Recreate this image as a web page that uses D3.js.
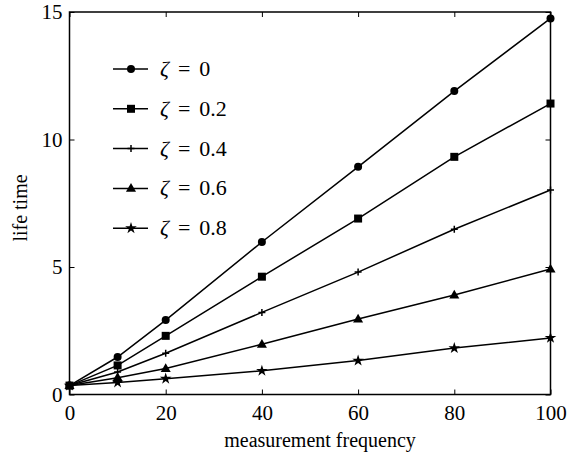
<!DOCTYPE html>
<html><head><meta charset="utf-8">
<script src="https://cdn.jsdelivr.net/npm/d3@7"></script>
<style>body{margin:0;background:#fff}svg{display:block}</style>
</head><body>
<svg id="c" width="568" height="459"></svg>
<script>
const xValues = [0, 10, 20, 40, 60, 80, 100];
const zetaLabels = ["0", "0.2", "0.4", "0.6", "0.8"];
const zeta0  = [0.35, 1.47, 2.92, 5.98, 8.93, 11.9, 14.75];
const zeta02 = [0.35, 1.14, 2.3, 4.62, 6.9, 9.32, 11.41];
const zeta04 = [0.35, 0.88, 1.62, 3.22, 4.8, 6.48, 8.02];
const zeta06 = [0.35, 0.66, 1.02, 1.97, 2.96, 3.9, 4.92];
const zeta08 = [0.35, 0.47, 0.62, 0.93, 1.33, 1.82, 2.22];
const xTicks = [0, 20, 40, 60, 80, 100];
const yTicks = [0, 5, 10, 15];
const markers = ["circle", "square", "plus", "triangle", "star"];
const series = [zeta0, zeta02, zeta04, zeta06, zeta08];

const svg = d3.select("#c");
const m = {l: 69.5, r: 550.5, t: 12, b: 394.5};
const x = d3.scaleLinear().domain([0, 100]).range([m.l, m.r]);
const y = d3.scaleLinear().domain([0, 15]).range([m.b, m.t]);
const font = "Liberation Serif";

// axes with inward ticks on all four sides
const g = svg.append("g");
g.append("g").attr("transform", `translate(0,${m.b})`)
  .call(d3.axisBottom(x).tickValues(xTicks).tickSizeInner(-5).tickSizeOuter(0).tickPadding(11).tickFormat(d3.format("d")));
g.append("g").attr("transform", `translate(0,${m.t})`)
  .call(d3.axisTop(x).tickValues(xTicks).tickSizeInner(-5).tickSizeOuter(0).tickFormat(""));
g.append("g").attr("transform", `translate(${m.l},0)`)
  .call(d3.axisLeft(y).tickValues(yTicks).tickSizeInner(-5).tickSizeOuter(0).tickPadding(7).tickFormat(d3.format("d")));
g.append("g").attr("transform", `translate(${m.r},0)`)
  .call(d3.axisRight(y).tickValues(yTicks).tickSizeInner(-5).tickSizeOuter(0).tickFormat(""));
g.selectAll(".domain").remove();
g.selectAll("g").attr("font-family", font);
g.selectAll(".tick line").attr("stroke", "#000").attr("stroke-width", 1);
g.selectAll(".tick text").attr("font-family", font).attr("font-size", 21).attr("fill", "#000");

svg.append("rect").attr("x", m.l).attr("y", m.t).attr("width", m.r - m.l).attr("height", m.b - m.t)
  .attr("fill", "none").attr("stroke", "#000").attr("stroke-width", 1.5);

function drawMarker(sel, type, cx, cy) {
  if (type === "circle") sel.append("circle").attr("cx", cx).attr("cy", cy).attr("r", 4).attr("fill", "#000");
  else if (type === "square") sel.append("rect").attr("x", cx - 4).attr("y", cy - 4).attr("width", 8).attr("height", 8).attr("fill", "#000");
  else if (type === "plus") sel.append("path").attr("d", `M${cx-3.5},${cy}H${cx+3.5}M${cx},${cy-3.5}V${cy+3.5}`).attr("stroke", "#000").attr("stroke-width", 1.5);
  else if (type === "triangle") sel.append("path").attr("d", d3.symbol(d3.symbolTriangle, 44)()).attr("transform", `translate(${cx},${cy + 0.5})`).attr("fill", "#000");
  else if (type === "star") sel.append("path").attr("d", d3.symbol(d3.symbolStar, 42)()).attr("transform", `translate(${cx},${cy})`).attr("fill", "#000");
}

const line = d3.line().x((d, i) => x(xValues[i])).y(d => y(d));
series.forEach((s, k) => {
  svg.append("path").datum(s).attr("d", line).attr("fill", "none").attr("stroke", "#000").attr("stroke-width", 1.5);
  const mg = svg.append("g");
  s.forEach((v, i) => drawMarker(mg, markers[k], x(xValues[i]), y(v)));
});

// legend
const lg = svg.append("g");
zetaLabels.forEach((lab, k) => {
  const yy = 69 + k * 39.8;
  lg.append("line").attr("x1", 113).attr("x2", 148).attr("y1", yy).attr("y2", yy).attr("stroke", "#000").attr("stroke-width", 1.5);
  drawMarker(lg, markers[k], 131, yy);
  const t = lg.append("text").attr("x", 160).attr("y", yy + 7).attr("font-family", font).attr("font-size", 22).attr("fill", "#000");
  t.append("tspan").attr("font-style", "italic").text("ζ");
  t.append("tspan").attr("dx", 9).text("=");
  t.append("tspan").attr("dx", 9).text(lab);
});

// axis labels
svg.append("text").attr("x", 320).attr("y", 447).attr("text-anchor", "middle")
  .attr("font-family", font).attr("font-size", 20).text("measurement frequency");
svg.append("text").attr("transform", `translate(27,208) rotate(-90)`).attr("text-anchor", "middle")
  .attr("font-family", font).attr("font-size", 20).text("life time");
</script>
</body></html>
